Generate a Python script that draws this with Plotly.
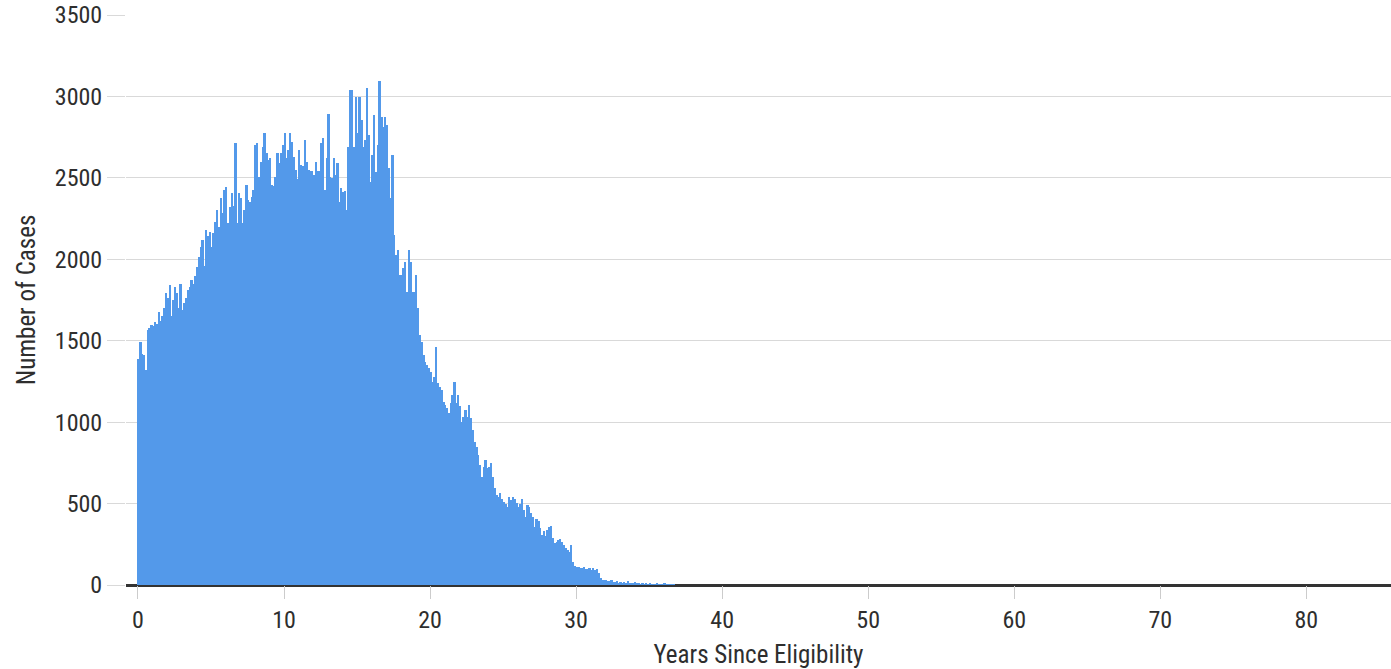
import numpy as np
import plotly.graph_objects as go

# Histogram: number of cases per 1/8-year bin of "years since eligibility"
bin_width = 0.125
bin_start = 0.0

counts = [
    # year 0
    1390, 1494, 1420, 1412, 1320, 1565, 1580, 1596,
    # year 1
    1590, 1616, 1600, 1678, 1620, 1650, 1700, 1792,
    # year 2
    1760, 1841, 1650, 1750, 1830, 1790, 1700, 1850,
    # year 3
    1688, 1730, 1760, 1810, 1830, 1872, 1850, 1900,
    # year 4
    1954, 2015, 2077, 2120, 1960, 2179, 2140, 2170,
    # year 5
    2077, 2160, 2230, 2302, 2200, 2375, 2283, 2425,
    # year 6
    2445, 2222, 2322, 2406, 2330, 2711, 2222, 2406,
    # year 7
    2375, 2222, 2300, 2455, 2363, 2350, 2380, 2425,
    # year 8
    2701, 2711, 2506, 2600, 2690, 2773, 2650, 2608,
    # year 9
    2620, 2455, 2450, 2506, 2650, 2589, 2650, 2701,
    # year 10
    2773, 2620, 2670, 2773, 2720, 2629, 2547, 2496,
    # year 11
    2670, 2578, 2570, 2732, 2599, 2547, 2540, 2545,
    # year 12
    2517, 2599, 2540, 2540, 2711, 2742, 2425, 2619,
    # year 13
    2895, 2506, 2500, 2619, 2517, 2589, 2353, 2435,
    # year 14
    2415, 2420, 2302, 2690, 3039, 3039, 2690, 2998,
    # year 15
    2773, 2998, 2855, 2690, 2732, 3049, 2763, 2476,
    # year 16
    2640, 2885, 2537, 2700, 3094, 2875, 2813, 2875,
    # year 17
    2824, 2558, 2374, 2640, 2149, 2026, 2056, 1903,
    # year 18
    1903, 1944, 1985, 1801, 2056, 1985, 1801, 1801,
    # year 19
    1903, 1699, 1535, 1494, 1412, 1371, 1351, 1330,
    # year 20
    1310, 1248, 1279, 1463, 1238, 1218, 1200, 1125,
    # year 21
    1105, 1084, 1054, 1115, 1166, 1248, 1120, 1166,
    # year 22
    1100, 1003, 1030, 1074, 1030, 1105, 1023, 951,
    # year 23
    880, 849, 798, 737, 665, 726, 767, 720,
    # year 24
    725, 747, 665, 594, 552, 542, 563, 530,
    # year 25
    511, 500, 481, 542, 520, 542, 530, 505,
    # year 26
    481, 500, 530, 460, 419, 491, 480, 440,
    # year 27
    420, 358, 403, 390, 348, 307, 330, 300,
    # year 28
    338, 358, 365, 287, 256, 265, 276, 280,
    # year 29
    265, 245, 225, 215, 205, 245, 143, 117,
    # year 30
    110, 109, 105, 102, 109, 96, 96, 102,
    # year 31
    92, 102, 92, 96, 72, 41, 31, 28,
    # year 32
    31, 25, 22, 28, 20, 18, 22, 15,
    # year 33
    20, 14, 18, 12, 22, 10, 15, 12,
    # year 34
    18, 8, 12, 6, 14, 5, 10, 6,
    # year 35
    8, 4, 6, 3, 10, 4, 2, 3,
    # year 36
    12, 2, 3, 1, 2, 1, 0, 0,
]

x_tick_values = [0, 10, 20, 30, 40, 50, 60, 70, 80]
y_tick_values = [0, 500, 1000, 1500, 2000, 2500, 3000, 3500]

x_title = "Years Since Eligibility"
y_title = "Number of Cases"

bin_left = bin_start + bin_width * np.arange(len(counts))

FONT = "Roboto Condensed, Liberation Sans Narrow, Roboto, sans-serif"
TEXT = "#2e2e2e"

fig = go.Figure(
    go.Bar(
        x=bin_left + bin_width / 2,
        y=counts,
        width=bin_width,
        marker=dict(color="#5399EA", line=dict(width=0)),
        hoverinfo="x+y",
    )
)

fig.update_layout(
    width=1391,
    height=669,
    margin=dict(l=126, r=0, t=15, b=84),
    plot_bgcolor="white",
    paper_bgcolor="white",
    bargap=0,
    showlegend=False,
    font=dict(family=FONT, color=TEXT, size=24),
)

fig.update_xaxes(
    range=[-0.82, 85.8],
    tickvals=x_tick_values,
    ticks="outside",
    ticklen=13,
    tickcolor="#cccccc",
    tickwidth=1,
    showgrid=False,
    zeroline=False,
    showline=False,
    tickfont=dict(family=FONT, size=24, color=TEXT),
    title=dict(text=x_title, font=dict(family=FONT, size=25, color=TEXT), standoff=12),
)

fig.update_yaxes(
    range=[0, 3500],
    tickvals=y_tick_values,
    ticks="outside",
    ticklen=18,
    tickcolor="#d9d9d9",
    tickwidth=1,
    showgrid=True,
    gridcolor="#d9d9d9",
    gridwidth=1,
    zeroline=True,
    zerolinecolor="#333333",
    zerolinewidth=3,
    showline=False,
    tickfont=dict(family=FONT, size=24, color=TEXT),
    title=dict(text=y_title, font=dict(family=FONT, size=25, color=TEXT), standoff=12),
)

fig.write_html(
    "out.html",
    config={"displayModeBar": False},
    post_script="document.body.style.margin='0px';",
)
